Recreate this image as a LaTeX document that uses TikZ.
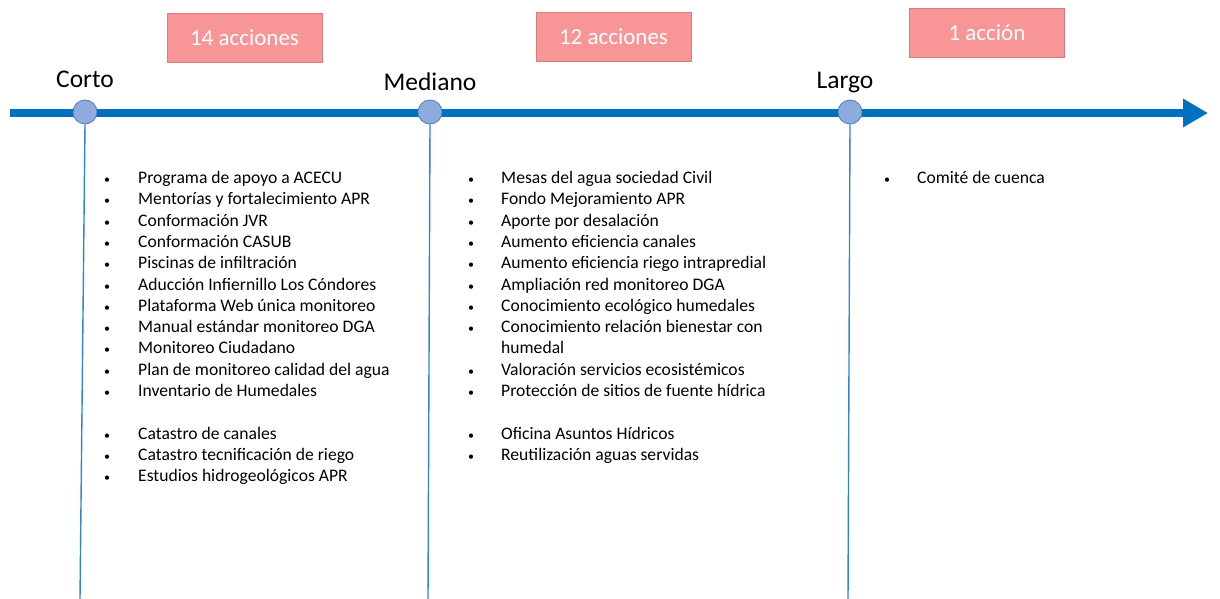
\documentclass[tikz,border=0pt]{standalone}
\usepackage{fontspec}
\setmainfont{Carlito}
\usetikzlibrary{arrows.meta}
\definecolor{tlblue}{HTML}{0070C0}
\definecolor{vblue}{HTML}{2F85CE}
\definecolor{dotfill}{HTML}{8FAADC}
\definecolor{dotdraw}{HTML}{4A7CC4}
\definecolor{pinkfill}{HTML}{F79597}
\definecolor{pinkdraw}{HTML}{D97C7E}
\tikzset{
  pinkbox/.style={draw=pinkdraw, fill=pinkfill, line width=0.8pt, minimum width=155pt, minimum height=49pt, inner sep=0pt, text=white, font=\fontsize{23}{27}\selectfont},
  phase/.style={anchor=base, font=\fontsize{25.5}{30}\selectfont, inner sep=0pt},
  dot/.style={circle, draw=dotdraw, fill=dotfill, line width=0.8pt, minimum size=24pt, inner sep=0pt},
  vline/.style={draw=vblue, line width=1.4pt},
  item/.style={anchor=base west, font=\fontsize{17.6}{21}\selectfont, inner sep=0pt},
  bul/.style={anchor=base, font=\fontsize{12}{14}\selectfont, inner sep=0pt}
}
\begin{document}
\begin{tikzpicture}[x=1pt,y=-1pt]
\useasboundingbox (0,0) rectangle (1220,599);
% timeline
\coordinate (tlstart) at (10,113);
\coordinate (tlend) at (1208,113);
\draw[tlblue, line width=8pt, -{Triangle[length=25pt,width=27pt]}] (tlstart) -- (tlend);
% vertical lines
\coordinate (c1b) at (80,599);
\coordinate (c2b) at (428,599);
\coordinate (c3b) at (848,599);
\node[dot] (c1) at (85,112) {};
\node[dot] (c2) at (430,112) {};
\node[dot] (c3) at (850,112) {};
\draw[vline] (c1.south) -- (c1b);
\draw[vline] (c2.south) -- (c2b);
\draw[vline] (c3.south) -- (c3b);
% phase labels
\node[phase] (lc) at (85,88) {Corto};
\node[phase] (lm) at (430,91) {Mediano};
\node[phase] (ll) at (845,89) {Largo};
% pink boxes
\node[pinkbox] (b1) at (244.5,37.5) {14 acciones};
\node[pinkbox] (b2) at (613.5,37) {12 acciones};
\node[pinkbox] (b3) at (987,32.5) {1 acción};
% lists
\def\ls{21.3}
\foreach \t [count=\i] in {Programa de apoyo a ACECU,Mentorías y fortalecimiento APR,Conformación JVR,Conformación CASUB,Piscinas de infiltración,Aducción Infiernillo Los Cóndores,Plataforma Web única monitoreo,Manual estándar monitoreo DGA,Monitoreo Ciudadano,Plan de monitoreo calidad del agua,Inventario de Humedales}{
  \node[bul] (ba\i) at (107,183.5+\ls*\i-\ls) {•};
  \node[item] (ia\i) at (138,183.5+\ls*\i-\ls) {\t};
}
\foreach \t [count=\i] in {Catastro de canales,Catastro tecnificación de riego,Estudios hidrogeológicos APR}{
  \node[bul] (bb\i) at (107,183.5+\ls*\i+\ls*11) {•};
  \node[item] (ib\i) at (138,183.5+\ls*\i+\ls*11) {\t};
}
\foreach \t [count=\i] in {Mesas del agua sociedad Civil,Fondo Mejoramiento APR,Aporte por desalación,Aumento eficiencia canales,Aumento eficiencia riego intrapredial,Ampliación red monitoreo DGA,Conocimiento ecológico humedales,Conocimiento relación bienestar con}{
  \node[bul] (bc\i) at (471,183.5+\ls*\i-\ls) {•};
  \node[item] (ic\i) at (501,183.5+\ls*\i-\ls) {\t};
}
\node[item] (ic9) at (501,183.5+\ls*8) {humedal};
\foreach \t [count=\i] in {Valoración servicios ecosistémicos,Protección de sitios de fuente hídrica}{
  \node[bul] (bd\i) at (471,183.5+\ls*\i+\ls*8) {•};
  \node[item] (id\i) at (501,183.5+\ls*\i+\ls*8) {\t};
}
\foreach \t [count=\i] in {Oficina Asuntos Hídricos,Reutilización aguas servidas}{
  \node[bul] (be\i) at (471,183.5+\ls*\i+\ls*11) {•};
  \node[item] (ie\i) at (501,183.5+\ls*\i+\ls*11) {\t};
}
\node[bul] (bf1) at (887,183.5) {•};
\node[item] (if1) at (917,183.5) {Comité de cuenca};
\end{tikzpicture}
\end{document}
